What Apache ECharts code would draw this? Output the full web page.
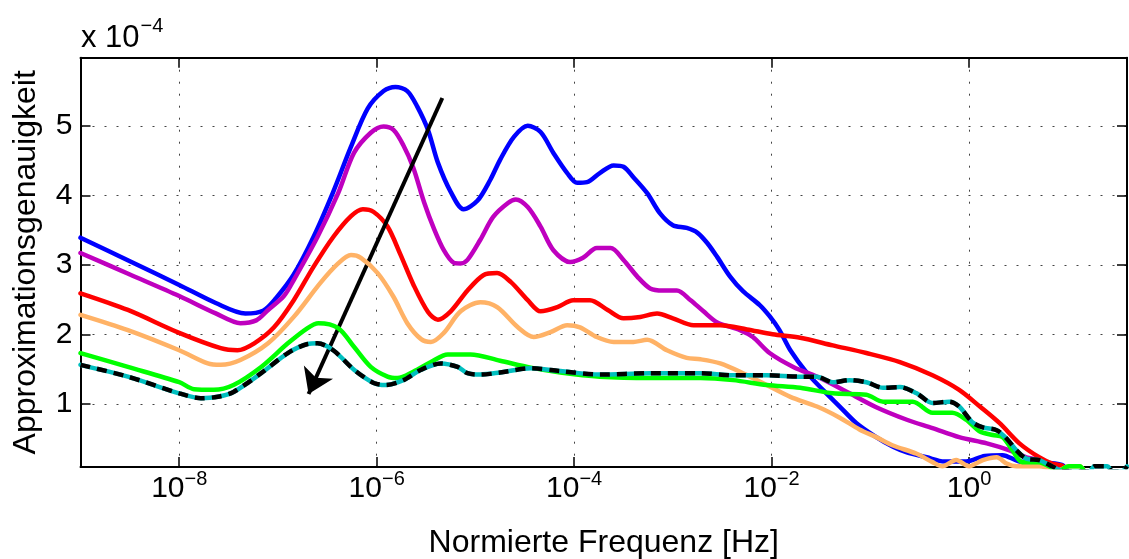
<!DOCTYPE html>
<html>
<head>
<meta charset="utf-8">
<script src="https://cdn.jsdelivr.net/npm/echarts@6/dist/echarts.min.js"></script>
<style>
html,body{margin:0;padding:0;background:#fff;}
#chart{width:1129px;height:559px;}
</style>
</head>
<body>
<div id="chart"></div>
<script>
// x values are log10 of the normalized frequency [Hz]; y values in units of 1e-4
const xTicks = [-8, -6, -4, -2, 0];
const yTicks = [1, 2, 3, 4, 5];

const blue = [[-9.0,3.39],[-8.50,3.05],[-8.00,2.71],[-7.63,2.45],[-7.33,2.30],[-7.15,2.34],[-7.02,2.52],[-6.84,2.86],[-6.64,3.40],[-6.44,4.05],[-6.26,4.70],[-6.09,5.25],[-5.93,5.50],[-5.81,5.56],[-5.69,5.50],[-5.59,5.28],[-5.48,4.94],[-5.38,4.47],[-5.25,4.05],[-5.12,3.80],[-4.98,3.92],[-4.85,4.22],[-4.75,4.51],[-4.61,4.84],[-4.47,5.00],[-4.34,4.91],[-4.21,4.61],[-4.07,4.32],[-3.97,4.18],[-3.87,4.19],[-3.74,4.32],[-3.60,4.43],[-3.50,4.41],[-3.40,4.26],[-3.26,4.03],[-3.13,3.74],[-3.00,3.57],[-2.86,3.53],[-2.75,3.46],[-2.65,3.31],[-2.55,3.11],[-2.42,2.83],[-2.29,2.62],[-2.12,2.42],[-2.02,2.26],[-1.92,2.06],[-1.81,1.77],[-1.64,1.44],[-1.48,1.20],[-1.31,0.96],[-1.14,0.72],[-0.94,0.52],[-0.77,0.38],[-0.63,0.30],[-0.43,0.23],[-0.25,0.17],[-0.03,0.17],[0.16,0.25],[0.34,0.26],[0.51,0.17],[0.71,0.16],[0.94,0.12],[1.00,0.03]];

const magenta = [[-9.0,3.17],[-8.50,2.86],[-8.00,2.55],[-7.63,2.30],[-7.38,2.16],[-7.22,2.20],[-7.10,2.35],[-6.94,2.55],[-6.84,2.78],[-6.60,3.40],[-6.39,4.03],[-6.23,4.61],[-6.06,4.90],[-5.93,4.99],[-5.83,4.94],[-5.73,4.72],[-5.63,4.40],[-5.52,3.90],[-5.42,3.52],[-5.32,3.21],[-5.22,3.03],[-5.15,3.02],[-5.08,3.07],[-4.95,3.36],[-4.82,3.69],[-4.67,3.89],[-4.59,3.94],[-4.47,3.83],[-4.34,3.55],[-4.21,3.21],[-4.04,3.04],[-3.91,3.10],[-3.77,3.24],[-3.63,3.24],[-3.50,3.07],[-3.36,2.83],[-3.23,2.66],[-3.10,2.63],[-2.96,2.63],[-2.82,2.49],[-2.69,2.33],[-2.55,2.17],[-2.32,2.06],[-2.19,1.96],[-2.02,1.73],[-1.78,1.53],[-1.51,1.37],[-1.21,1.15],[-0.94,0.95],[-0.63,0.77],[-0.37,0.65],[-0.10,0.52],[0.18,0.43],[0.41,0.33],[0.58,0.23],[0.71,0.19],[0.86,0.10],[0.95,0.02]];

const red = [[-9.0,2.59],[-8.52,2.35],[-8.00,2.02],[-7.58,1.80],[-7.41,1.77],[-7.24,1.87],[-7.04,2.10],[-6.84,2.49],[-6.64,2.97],[-6.44,3.40],[-6.26,3.70],[-6.14,3.80],[-6.03,3.76],[-5.89,3.55],[-5.76,3.15],[-5.63,2.72],[-5.48,2.32],[-5.38,2.21],[-5.25,2.33],[-5.08,2.63],[-4.92,2.85],[-4.78,2.88],[-4.64,2.75],[-4.47,2.49],[-4.34,2.33],[-4.17,2.39],[-4.01,2.49],[-3.84,2.49],[-3.66,2.35],[-3.50,2.23],[-3.33,2.25],[-3.16,2.30],[-3.00,2.23],[-2.79,2.13],[-2.52,2.13],[-2.25,2.07],[-1.99,2.00],[-1.71,1.95],[-1.38,1.84],[-1.04,1.73],[-0.70,1.60],[-0.37,1.41],[-0.10,1.20],[0.11,0.96],[0.31,0.72],[0.51,0.43],[0.71,0.23],[0.84,0.14],[0.94,0.11],[1.00,0.02]];

const orange = [[-9.0,2.28],[-8.52,2.06],[-8.00,1.77],[-7.71,1.58],[-7.58,1.56],[-7.38,1.63],[-7.10,1.87],[-6.84,2.25],[-6.57,2.74],[-6.39,3.02],[-6.26,3.14],[-6.16,3.10],[-5.99,2.88],[-5.83,2.54],[-5.69,2.16],[-5.55,1.93],[-5.45,1.89],[-5.32,2.02],[-5.15,2.33],[-4.95,2.46],[-4.78,2.39],[-4.57,2.10],[-4.41,1.96],[-4.24,2.03],[-4.07,2.13],[-3.94,2.10],[-3.77,1.96],[-3.60,1.89],[-3.40,1.89],[-3.26,1.92],[-3.06,1.77],[-2.86,1.66],[-2.72,1.64],[-2.52,1.58],[-2.29,1.44],[-2.05,1.27],[-1.81,1.10],[-1.54,0.96],[-1.31,0.80],[-1.11,0.63],[-0.94,0.52],[-0.77,0.40],[-0.53,0.28],[-0.37,0.16],[-0.27,0.10],[-0.13,0.19],[0.00,0.10],[0.14,0.19],[0.28,0.23],[0.38,0.14],[0.48,0.10],[0.71,0.10],[0.90,0.04],[1.01,0.10],[1.12,0.10],[1.17,0.02]];

const green = [[-9.0,1.73],[-8.52,1.53],[-8.00,1.31],[-7.85,1.21],[-7.65,1.20],[-7.45,1.27],[-7.17,1.53],[-6.90,1.87],[-6.70,2.09],[-6.59,2.16],[-6.39,2.09],[-6.23,1.82],[-6.06,1.53],[-5.89,1.39],[-5.79,1.37],[-5.63,1.46],[-5.45,1.60],[-5.28,1.71],[-5.05,1.71],[-4.75,1.62],[-4.44,1.52],[-4.14,1.45],[-3.74,1.39],[-3.23,1.37],[-2.72,1.37],[-2.39,1.34],[-2.05,1.27],[-1.71,1.23],[-1.38,1.15],[-1.04,1.13],[-0.87,1.03],[-0.57,1.03],[-0.37,0.87],[-0.17,0.87],[-0.03,0.77],[0.11,0.60],[0.24,0.55],[0.34,0.52],[0.44,0.33],[0.54,0.16],[0.71,0.16],[0.81,0.10],[0.90,0.03],[1.01,0.10],[1.12,0.10],[1.17,0.02]];

const cyan = [[-9.0,1.56],[-8.52,1.39],[-8.00,1.15],[-7.78,1.08],[-7.61,1.10],[-7.45,1.17],[-7.17,1.44],[-6.90,1.73],[-6.70,1.86],[-6.60,1.87],[-6.44,1.77],[-6.23,1.49],[-6.03,1.30],[-5.91,1.27],[-5.73,1.34],[-5.55,1.49],[-5.35,1.58],[-5.18,1.53],[-5.08,1.44],[-4.95,1.42],[-4.75,1.45],[-4.44,1.51],[-4.14,1.47],[-3.74,1.42],[-3.23,1.44],[-2.72,1.44],[-2.39,1.41],[-2.05,1.41],[-1.71,1.39],[-1.54,1.39],[-1.38,1.31],[-1.21,1.34],[-1.04,1.31],[-0.87,1.23],[-0.70,1.24],[-0.53,1.15],[-0.37,1.01],[-0.20,1.03],[-0.10,0.96],[0.03,0.74],[0.14,0.66],[0.28,0.62],[0.38,0.50],[0.48,0.33],[0.58,0.21],[0.71,0.19],[0.84,0.10],[0.95,0.03],[1.22,0.03],[1.27,0.10],[1.40,0.10],[1.45,0.03],[1.55,0.03],[1.60,0.10]];

const blackDashed = cyan;

// arrow annotation: [log10 f, value] of start and end
const arrowStart = [-5.335, 5.40];
const arrowEnd = [-6.69, 1.14];

const FONT = '"Liberation Sans", Arial, Helvetica, sans-serif';

const chart = echarts.init(document.getElementById('chart'), null, {renderer: 'canvas'});

function lineSeries(name, data, color, extra) {
  return Object.assign({
    name: name,
    type: 'line',
    data: data,
    showSymbol: false,
    symbol: 'none',
    smooth: 0.3,
    clip: true,
    lineStyle: {color: color, width: 4.5, join: 'round', cap: 'round'},
    itemStyle: {color: color},
    emphasis: {disabled: true},
    silent: true
  }, extra || {});
}

const boxAxisCommon = {
  axisLine: {show: true, onZero: false, lineStyle: {color: '#000', width: 2}},
  axisLabel: {show: false},
  splitLine: {show: false}
};

const option = {
  animation: false,
  backgroundColor: '#fff',
  grid: {left: 80.5, right: 2, top: 57.7, bottom: 92, containLabel: false, outerBoundsMode: 'none'},
  xAxis: [
    {
      type: 'value', min: -9, max: 1.6, position: 'bottom',
      axisLine: {show: true, onZero: false, lineStyle: {color: '#000', width: 2}},
      axisTick: {show: true, inside: true, length: 10, customValues: xTicks, lineStyle: {color: '#000', width: 1.5}},
      axisLabel: {
        show: true, customValues: xTicks, margin: 1,
        formatter: function (v) { return '{b|10}{e|' + (v === 0 ? '0' : '\u2212' + Math.abs(v)) + '}'; },
        rich: {
          b: {fontSize: 30, fontFamily: FONT, color: '#000', verticalAlign: 'bottom', lineHeight: 36},
          e: {fontSize: 20, fontFamily: FONT, color: '#000', verticalAlign: 'bottom', lineHeight: 36, padding: [0, 0, 15, 0]}
        }
      },
      splitLine: {show: true, lineStyle: {color: '#444', width: 1, type: [2, 10]}},
      name: 'Normierte Frequenz [Hz]', nameLocation: 'middle', nameGap: 60,
      nameTextStyle: {fontSize: 32, fontFamily: FONT, color: '#000'}
    },
    Object.assign({
      type: 'value', min: -9, max: 1.6, position: 'top',
      axisTick: {show: true, inside: true, length: 10, customValues: xTicks, lineStyle: {color: '#000', width: 1.5}}
    }, boxAxisCommon)
  ],
  yAxis: [
    {
      type: 'value', min: 0.09, max: 5.98, position: 'left',
      axisLine: {show: true, onZero: false, lineStyle: {color: '#000', width: 2}},
      axisTick: {show: true, inside: true, length: 10, customValues: yTicks, lineStyle: {color: '#000', width: 1.5}},
      axisLabel: {show: true, customValues: yTicks, margin: 8, fontSize: 30, fontFamily: FONT, color: '#000'},
      splitLine: {show: true, lineStyle: {color: '#444', width: 1, type: [2, 10]}},
      name: 'Approximationsgenauigkeit', nameLocation: 'middle', nameGap: 38, nameRotate: 90,
      nameTextStyle: {fontSize: 32, fontFamily: FONT, color: '#000'}
    },
    Object.assign({
      type: 'value', min: 0.09, max: 5.98, position: 'right',
      axisTick: {show: true, inside: true, length: 10, customValues: yTicks, lineStyle: {color: '#000', width: 1.5}}
    }, boxAxisCommon)
  ],
  graphic: [
    {
      type: 'text', left: 81, top: 16, silent: true,
      style: {
        text: '{b|x 10}{e|\u22124}',
        rich: {
          b: {fontSize: 31, fontFamily: FONT, fill: '#000', verticalAlign: 'bottom', lineHeight: 40},
          e: {fontSize: 20, fontFamily: FONT, fill: '#000', verticalAlign: 'bottom', lineHeight: 40, padding: [0, 0, 18, 1]}
        }
      }
    }
  ],
  series: [
    lineSeries('blue', blue, '#0000FF', {z: 2}),
    lineSeries('magenta', magenta, '#BF00BF', {z: 3}),
    lineSeries('red', red, '#FF0000', {z: 4}),
    lineSeries('orange', orange, '#FFB266', {z: 5}),
    lineSeries('green', green, '#00FF00', {z: 6}),
    lineSeries('cyan', cyan, '#00BFBF', {z: 7}),
    lineSeries('black', blackDashed, '#000000', {z: 8, lineStyle: {color: '#000', width: 4.5, type: [10, 7], cap: 'butt'}}),
    {
      type: 'line', data: [], silent: true, z: 10,
      markLine: {
        silent: true, animation: false,
        symbol: ['none', 'arrow'], symbolSize: 24,
        label: {show: false},
        lineStyle: {color: '#000', width: 4, type: 'solid'},
        itemStyle: {color: '#000'},
        emphasis: {disabled: true},
        data: [[{coord: arrowStart}, {coord: arrowEnd}]]
      }
    }
  ]
};

chart.setOption(option);
</script>
</body>
</html>
